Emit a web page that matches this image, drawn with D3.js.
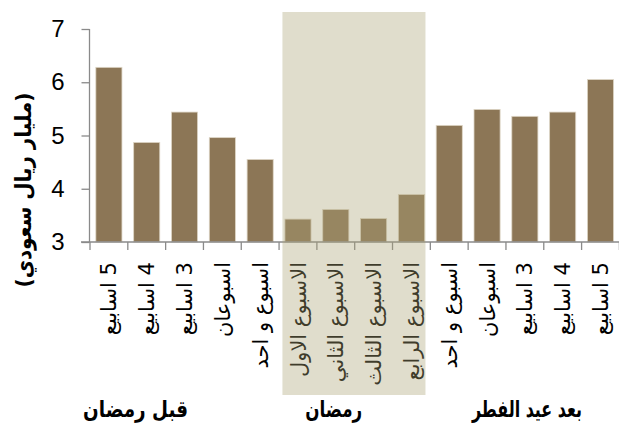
<!DOCTYPE html>
<html>
<head>
<meta charset="utf-8">
<script src="https://cdn.jsdelivr.net/npm/d3@7/dist/d3.min.js"></script>
<style>
  html, body { margin: 0; padding: 0; background: #fff; }
  svg { display: block; }
</style>
</head>
<body>
<svg id="chart" width="619" height="426"></svg>
<script>
// Weekly spending, billion SAR
const categories = [
  "5 اسابيع", "4 اسابيع", "3 اسابيع", "اسبوعان", "اسبوع و احد",
  "الاسبوع الاول", "الاسبوع الثاني", "الاسبوع الثالث", "الاسبوع الرابع",
  "اسبوع و احد", "اسبوعان", "3 اسابيع", "4 اسابيع", "5 اسابيع"
];
const values = [6.28, 4.87, 5.44, 4.96, 4.55, 3.43, 3.61, 3.44, 3.89, 5.19, 5.49, 5.36, 5.44, 6.05];
const yTicks = [3, 4, 5, 6, 7];
const yTitle = "(مليار ريال سعودي)";
// Period groups: label with first and last category index
const groupLabels = ["قبل رمضان", "رمضان", "بعد عيد الفطر"];
const groupStart = [0, 5, 9];
const groupEnd = [4, 8, 13];
const highlightGroup = 1;

const svg = d3.select("#chart");
const arabicFont = "'DejaVu Sans', sans-serif";
const axisColor = "#8a8a8a";

const x = d3.scaleBand()
  .domain(d3.range(categories.length))
  .range([90, 619.4])
  .paddingInner(0.31)
  .paddingOuter(0.155);
const step = x.step();
const gap = step * x.paddingInner();

const y = d3.scaleLinear().domain([3, 7]).range([242, 29]);

// Bars
svg.append("g")
  .selectAll("rect")
  .data(values)
  .join("rect")
  .attr("x", (d, i) => x(i))
  .attr("y", d => y(d))
  .attr("width", x.bandwidth())
  .attr("height", d => y(3) - y(d))
  .attr("fill", "#8c7656")
  .attr("stroke", "#ddd5c5")
  .attr("stroke-width", 0.8);

// Y axis
const yAxis = svg.append("g").attr("transform", "translate(89.5,0)")
  .call(d3.axisLeft(y).tickValues(yTicks).tickSize(8).tickPadding(17).tickFormat(d3.format("d")));
yAxis.select(".domain").attr("stroke", axisColor).attr("stroke-width", 1.3).attr("d", `M0,${y(7)}V${y(3)}`);
yAxis.selectAll(".tick line").attr("stroke", axisColor).attr("stroke-width", 1.3);
yAxis.selectAll(".tick text")
  .attr("fill", "#000")
  .style("font-family", "'Liberation Sans', Arial, sans-serif")
  .style("font-size", "24px");

// X axis baseline with ticks at band boundaries
const edge = i => i < categories.length ? x(i) - gap / 2 : x(i - 1) + x.bandwidth() + gap / 2;
const xg = svg.append("g");
xg.append("line")
  .attr("x1", 81).attr("x2", 619)
  .attr("y1", y(3)).attr("y2", y(3))
  .attr("stroke", axisColor).attr("stroke-width", 1.3);
xg.selectAll("line.tk")
  .data(d3.range(categories.length + 1))
  .join("line")
  .attr("class", "tk")
  .attr("x1", edge)
  .attr("x2", edge)
  .attr("y1", y(3)).attr("y2", y(3) + 8)
  .attr("stroke", axisColor).attr("stroke-width", 1.3);

// Category labels, rotated
svg.append("g")
  .selectAll("text")
  .data(categories)
  .join("text")
  .attr("transform", (d, i) => `translate(${x(i) + x.bandwidth() / 2},262) rotate(-90)`)
  .attr("direction", "rtl")
  .attr("text-anchor", "start")
  .attr("dy", "0.36em")
  .style("font-family", arabicFont)
  .style("font-size", "21px")
  .attr("fill", "#000")
  .text(d => d);

// Squeeze a text horizontally (in its own frame) to a target length
function fitWidth(sel, target) {
  sel.each(function (d, i) {
    const w = this.getComputedTextLength();
    const t = typeof target === "function" ? target(d, i) : target;
    const base = d3.select(this).attr("data-base");
    d3.select(this).attr("transform", `${base} scale(${t / w},1)`);
  });
}

// Y axis title
svg.append("text")
  .attr("data-base", "translate(23,190) rotate(-90)")
  .attr("direction", "rtl")
  .attr("text-anchor", "middle")
  .attr("dy", "0.35em")
  .style("font-family", arabicFont)
  .style("font-weight", "bold")
  .style("font-size", "22px")
  .attr("fill", "#000")
  .text(yTitle)
  .call(fitWidth, 195);

// Group labels under the categories
const groupShift = [-49, -21, 2];
const groupWidth = [105, 57, 110];
svg.append("g")
  .selectAll("text")
  .data(groupLabels)
  .join("text")
  .attr("data-base", (d, i) =>
    `translate(${(x(groupStart[i]) + x(groupEnd[i]) + x.bandwidth()) / 2 + groupShift[i]},417)`)
  .attr("direction", "rtl")
  .attr("text-anchor", "middle")
  .style("font-family", arabicFont)
  .style("font-weight", "bold")
  .style("font-size", "23px")
  .attr("fill", "#000")
  .text(d => d)
  .call(fitWidth, (d, i) => groupWidth[i]);

// Ramadan highlight band laid over the chart
svg.append("rect")
  .attr("x", x(groupStart[highlightGroup]) - 2.5)
  .attr("y", 12)
  .attr("width", x(groupEnd[highlightGroup]) + x.bandwidth() + 1 - (x(groupStart[highlightGroup]) - 2.5))
  .attr("height", 383)
  .attr("fill", "rgb(170,162,118)")
  .attr("fill-opacity", 0.37);
</script>
</body>
</html>
